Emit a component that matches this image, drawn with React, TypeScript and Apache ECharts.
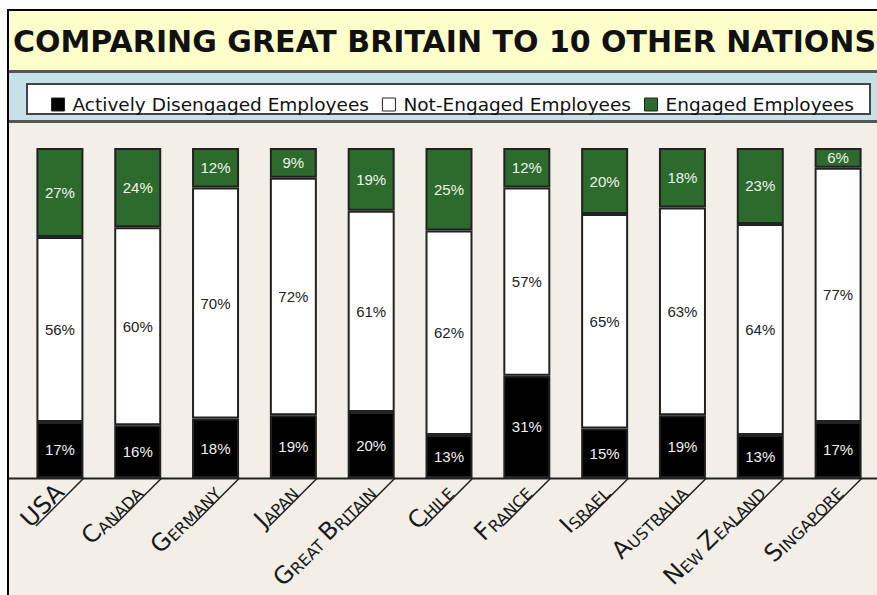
import React, { useEffect, useRef } from "react";
import * as echarts from "echarts";

const countries = ["USA", "Canada", "Germany", "Japan", "Great Britain", "Chile", "France", "Israel", "Australia", "New Zealand", "Singapore"];
const activelyDisengaged = [17, 16, 18, 19, 20, 13, 31, 15, 19, 13, 17];
const notEngaged = [56, 60, 70, 72, 61, 62, 57, 65, 63, 64, 77];
const engaged = [27, 24, 12, 9, 19, 25, 12, 20, 18, 23, 6];
const titleText = "COMPARING GREAT BRITAIN TO 10 OTHER NATIONS";
const seriesNames = ["Actively Disengaged Employees", "Not-Engaged Employees", "Engaged Employees"];

// small-caps style label: first letter of each word large, rest small
function smallCaps(name: string): string {
  if (name === "USA") return "{b|USA}";
  return name
    .split(" ")
    .map((w) => `{b|${w[0].toUpperCase()}}{s|${w.slice(1).toUpperCase()}}`)
    .join("{s| }");
}

export default function App() {
  const ref = useRef<HTMLDivElement>(null);
  useEffect(() => {
    const chart = echarts.init(ref.current!, undefined, { renderer: "svg" });
    const barLabel = (color: string) => ({
      show: true,
      position: "inside" as const,
      formatter: "{c}%",
      color,
      fontFamily: "Liberation Sans, Arial, sans-serif",
      fontSize: 15,
    });
    const border = { borderColor: "#222", borderWidth: 2 };
    chart.setOption({
      animation: false,
      backgroundColor: "#ffffff",
      grid: { left: 21, right: -15, top: 148, bottom: 117 },
      xAxis: {
        type: "category",
        data: countries,
        axisLine: { show: false },
        axisTick: { show: false },
        axisLabel: {
          interval: 0,
          rotate: 45,
          margin: 10,
          color: "#222",
          formatter: (v: string) => smallCaps(v),
          rich: {
            b: { fontSize: 24, fontFamily: "DejaVu Sans", color: "#1a1a1a", verticalAlign: "bottom", lineHeight: 24 },
            s: { fontSize: 16, fontFamily: "DejaVu Sans", color: "#1a1a1a", verticalAlign: "bottom", lineHeight: 24 },
          },
        },
      },
      yAxis: { type: "value", min: 0, max: 100, show: false },
      legend: {
        data: seriesNames,
        left: 46,
        top: 90,
        icon: "rect",
        itemWidth: 13,
        itemHeight: 13,
        itemGap: 13,
        itemStyle: { borderColor: "#222", borderWidth: 1 },
        textStyle: { fontFamily: "DejaVu Sans", fontSize: 18.5, color: "#111", padding: [0, 0, 0, 3] },
      },
      series: [
        {
          name: seriesNames[0],
          type: "bar",
          stack: "t",
          barWidth: 47,
          data: activelyDisengaged,
          itemStyle: { color: "#000000", ...border },
          label: barLabel("#f2f2f2"),
        },
        {
          name: seriesNames[1],
          type: "bar",
          stack: "t",
          data: notEngaged,
          itemStyle: { color: "#ffffff", ...border },
          label: barLabel("#222"),
        },
        {
          name: seriesNames[2],
          type: "bar",
          stack: "t",
          data: engaged,
          itemStyle: { color: "#2d6a2e", ...border },
          label: barLabel("#eef4ea"),
        },
        {
          type: "custom",
          clip: false,
          silent: true,
          data: countries.map((_, i) => [i, 0]),
          renderItem: (params: any, api: any) => {
            const p = api.coord([api.value(0), 0]);
            const R = p[0] + 24;
            return {
              type: "line",
              shape: { x1: R, y1: p[1], x2: R - 48, y2: p[1] + 48 },
              style: { stroke: "#222", lineWidth: 1.5 },
            };
          },
        },
      ],
      graphic: [
        { type: "rect", z: -20, shape: { x: 8, y: 10, width: 900, height: 600 }, style: { fill: "#f3eee8", stroke: "#000", lineWidth: 2 } },
        { type: "rect", z: -19, shape: { x: 9, y: 11, width: 880, height: 59 }, style: { fill: "#ffffcc" } },
        { type: "rect", z: -19, shape: { x: 9, y: 73, width: 880, height: 47 }, style: { fill: "#c6e2e8" } },
        { type: "line", z: -18, shape: { x1: 9, y1: 71.5, x2: 880, y2: 71.5 }, style: { stroke: "#555", lineWidth: 3 } },
        { type: "line", z: -18, shape: { x1: 9, y1: 121.5, x2: 880, y2: 121.5 }, style: { stroke: "#555", lineWidth: 3 } },
        { type: "rect", z: -17, shape: { x: 27, y: 84, width: 843, height: 30 }, style: { fill: "#ffffff", stroke: "#444", lineWidth: 2 } },
        { type: "line", z: -16, shape: { x1: 9, y1: 478.5, x2: 880, y2: 478.5 }, style: { stroke: "#222", lineWidth: 2 } },
        {
          type: "text",
          z: 10,
          x: 13,
          y: 41,
          style: { text: titleText, fontFamily: "DejaVu Sans", fontWeight: "bold", fontSize: 30, fill: "#111", verticalAlign: "middle" },
        },
      ],
    });
    return () => chart.dispose();
  }, []);
  return <div ref={ref} style={{ position: "fixed", left: 0, top: 0, width: 877, height: 595 }} />;
}
